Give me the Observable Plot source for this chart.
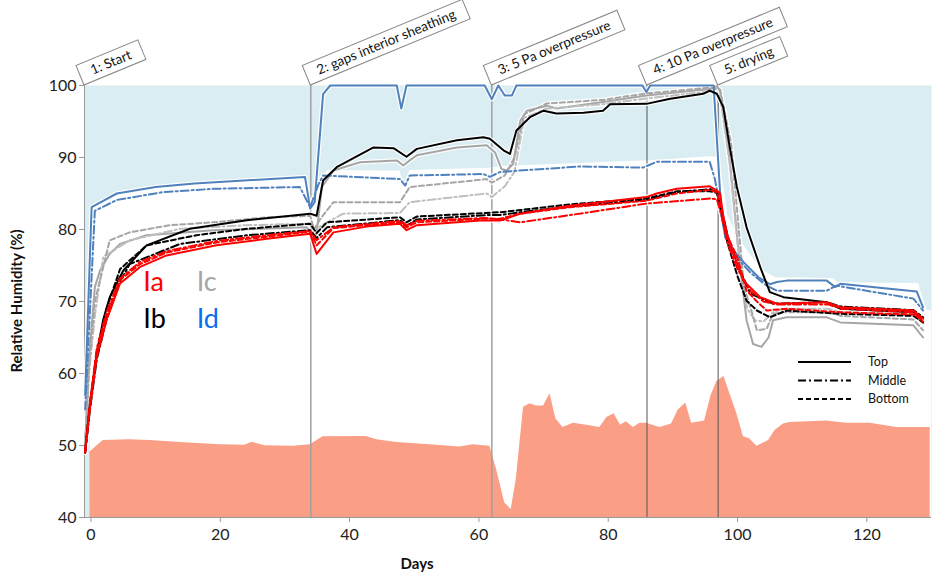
<!DOCTYPE html>
<html><head><meta charset="utf-8">
<script src="https://cdn.jsdelivr.net/npm/d3@7"></script>
<script src="https://cdn.jsdelivr.net/npm/@observablehq/plot@0.6"></script>
<style>body{margin:0;background:#fff} svg{display:block}</style>
</head><body><div id="chart"></div>
<script>
const FONT = "Lato, 'Open Sans', sans-serif";
const xTicks = [0,20,40,60,80,100,120];
const yTicks = [40,50,60,70,80,90,100];
const xDomain = [-1,130];
const yDomain = [40,100];
const phaseDays = [-1,34,62,86,97];
const phaseLabels = ["1: Start","2: gaps interior sheathing","3: 5 Pa overpressure","4: 10 Pa overpressure","5: drying"];
const sensorNames = ["Ia","Ic","Ib","Id"];
const sensorColors = ["#ff0000","#a6a6a6","#000000","#0a6ef0"];
const sensorLabelDays = [8.1,16.35,8.1,16.35];
const sensorLabelValues = [72.6,72.6,67.5,67.5];
const positionNames = ["Top","Middle","Bottom"];

// indoor RH (salmon area)
const indoorRH = [[-0.15,49.1],[1.9,50.7],[6,50.8],[9.1,50.7],[13.8,50.4],[20,50.1],[23.8,50.05],[24.9,50.45],[26.9,49.95],[31.3,49.9],[33.9,50.1],[35.9,51.2],[42.6,51.25],[44.2,50.8],[47.3,50.4],[52.4,50.1],[57.1,49.8],[59.1,50.1],[61.7,49.9],[62.7,46.8],[64.0,42.0],[65.0,41.1],[65.8,45.4],[66.9,55.3],[67.9,55.8],[68.9,55.5],[70.0,55.5],[71.0,57.2],[71.9,53.7],[73.0,52.5],[74.6,53.1],[76.7,52.8],[78.7,52.5],[79.8,53.9],[80.9,54.4],[81.9,52.8],[82.8,53.3],[83.9,52.5],[84.9,53.1],[85.9,53.1],[88.0,52.5],[89.8,53.0],[90.8,54.9],[92.0,55.9],[92.9,53.1],[94.9,53.4],[95.9,56.9],[96.8,58.9],[97.9,59.6],[99.9,54.4],[100.9,51.25],[101.9,50.9],[103.0,49.9],[104.8,50.7],[105.8,52.1],[107.1,53.0],[108.1,53.2],[113.8,53.4],[116.9,53.1],[120.5,53.1],[124.6,52.5],[127.7,52.5],[129.8,52.5]];

// lower edge of the light-blue band
const bandEdge = [[-1,40],[-0.1,40],[0,83.2],[4,85],[10,85.9],[16,86.5],[25,86.8],[33,87.3],[33.9,83.5],[34.6,84],[35.5,87],[36.7,88.2],[47.8,88.1],[48.5,85.8],[49.3,88.2],[61.7,88.5],[63.7,88.75],[87.5,89.6],[95.7,90.1],[96.8,90],[97.5,88],[98.5,82],[100,79],[102,76.5],[104,74.2],[106,73.3],[114.8,73.2],[115.5,72.6],[128,72.5],[129.3,68.75],[130,68.75]];

const iaTop = [[-0.9,49.3],[-0.15,55.3],[0.9,62.3],[2.4,67.4],[4.5,72.5],[7.6,74.8],[11.7,76.4],[19.4,77.8],[27.2,78.7],[33.9,79.4],[34.9,76.6],[37.5,79.6],[42.6,80.4],[47.8,80.8],[48.8,79.9],[50.4,80.6],[60.2,81.25],[63.3,81.25],[66.4,82.2],[74.1,83.3],[85.9,84.5],[87.5,85.0],[90.6,85.65],[95.7,86.0],[96.8,85.4],[97.3,85.0],[98.1,79.9],[99.4,76.6],[100.9,72.9],[103.5,70.6],[106.1,69.7],[113.8,69.9],[115.9,69.2],[127.2,68.75],[128.7,67.6]];
const iaMid = [[-0.9,49],[-0.15,56],[0.9,63.5],[2.4,68.5],[4.5,73.2],[7.6,75.5],[11.7,77],[19.4,78.4],[27.2,79.2],[33.9,79.8],[34.9,78.5],[37.5,80.3],[47.8,81.2],[48.8,80.6],[50.4,81.2],[61,81.6],[63.3,81.4],[66.4,81],[74.1,82],[85.9,83.6],[95.7,84.3],[96.8,84.2],[97.5,82],[98.5,78],[100,74.5],[102,71.5],[104,70],[106,69.6],[114,69.6],[116,69],[127.2,68.5],[128.7,67.2]];
const iaBot = [[-0.9,49],[-0.15,55.8],[0.9,63],[2.4,68],[4.5,73],[7.6,75.2],[11.7,76.8],[19.4,78.2],[27.2,79],[33.9,79.7],[34.9,77.8],[37.5,80.2],[47.8,81],[48.8,80.3],[50.4,81],[61,81.5],[63.3,81.5],[66.4,82.2],[74.1,83.1],[85.9,84],[90.6,85],[95.7,85.5],[96.8,85.2],[97.5,83],[98.5,79],[100,76],[101.4,71.5],[103,70],[104.5,68.75],[107.6,69.0],[115.9,68.5],[127.2,68.2],[128.7,67.4]];
const ibTop = [[-0.9,49.3],[-0.15,56],[0.9,62.7],[1.9,67.5],[2.9,70.6],[5.0,74.3],[8.6,77.8],[15.3,80.1],[24.1,81.3],[33.9,82.2],[34.9,81.9],[35.9,86.8],[38,88.65],[43.7,91.4],[46.8,91.3],[48.8,90.1],[50.4,91.2],[56.6,92.4],[60.7,92.8],[61.7,92.6],[63.8,91.0],[64.8,90.5],[65.8,93.75],[67.9,95.6],[70.0,96.5],[72.0,96.1],[76.2,96.2],[79.2,96.5],[80.3,97.4],[85.9,97.45],[89.6,98.15],[94.7,98.85],[95.7,99.3],[96.8,98.85],[97.8,97],[98.8,91.4],[99.9,85.9],[101.4,80.3],[103.5,74.8],[105,71.3],[107.1,70.6],[113.8,69.9],[115.9,69.0],[127.2,68.5],[128.7,67.7]];
const ibMid = [[-0.9,49],[-0.15,55],[0.9,62],[2.4,67.5],[4.5,72.8],[6,75.2],[13.8,78.0],[24.1,79.2],[33.9,79.9],[34.9,78.8],[36.5,80.3],[47.8,81.3],[48.8,80.5],[50.4,81.4],[61,82],[63.3,82],[66.4,82.4],[74.1,83.2],[85.9,84.1],[90.6,85.2],[95.7,85.6],[96.8,85.4],[97.5,83],[98.5,79],[100,75],[102,71.1],[105.5,69.7],[113.8,69.9],[116,69.3],[127.2,68.8],[128.7,67.8]];
const ibBot = [[-0.9,49],[-0.15,55.5],[0.9,63],[2.4,69],[4.5,74.5],[8.6,77.8],[16.3,79.2],[24.1,80.1],[33.9,80.8],[34.9,79.5],[36.5,81],[47.8,81.7],[48.8,81],[50.4,81.8],[61,82.3],[63.3,82.4],[66.4,82.7],[74.1,83.5],[85.9,84.3],[90.6,85.3],[95.7,85.3],[96.8,85.1],[97.5,82.5],[98.5,78],[100,73.5],[101.4,70.1],[103,68.75],[105,67.8],[107.6,68.75],[115.9,68.3],[127.2,68.0],[128.7,67.1]];
const icTop = [[-0.9,50],[-0.3,62],[0.6,72],[1.4,74.3],[2.9,76.6],[4.5,78.0],[8.6,79.2],[18.9,79.9],[33.4,80.3],[34.4,78.7],[34.9,79.4],[35.7,85.9],[37.5,88.2],[41.6,89.35],[47.3,89.6],[48.3,88.9],[49.3,89.6],[50.4,90.3],[56.6,91.4],[61.2,91.7],[62.5,90.7],[63.5,88.4],[64.3,88.2],[65.3,89.1],[66.4,95.1],[67.4,96.5],[70.5,97.2],[72.0,96.8],[79.2,97.7],[85.9,98.6],[95.7,99.5],[96.8,99.9],[97.3,99.3],[98.8,89.6],[99.9,79.4],[100.4,74.8],[101.4,67.4],[102.4,64.1],[103.7,63.7],[104.8,65.0],[105.5,67.4],[107.6,67.8],[113.8,67.8],[115.9,67.1],[127.2,66.7],[128.7,65.0]];
const icMid = [[-0.9,50],[-0.3,60],[0.6,68],[1.9,76.2],[6,78.5],[13.8,80.1],[24.1,80.6],[33.9,80.8],[34.5,79],[35.5,80.5],[39,82.2],[47.8,82.3],[49.3,83.8],[61.2,85.0],[62,84.5],[64,86],[65.5,88],[67,95.5],[70.5,96.8],[79.2,97.4],[85.9,98.2],[95.7,99.2],[97.3,98.5],[98.8,89],[100,78],[101.5,69],[102.7,67.4],[104,67.2],[105.5,68.5],[107,69],[114,69],[116,68.5],[127.2,68.2],[128.7,67]];
const icBot = [[-0.9,50],[-0.3,61],[0.6,70],[2.9,78.5],[6,79.6],[12.2,80.6],[18.9,81.0],[27.2,81.7],[33.9,81.9],[34.5,80],[35.5,81.5],[37.5,83.8],[47.8,83.8],[49.3,85.9],[61.2,87.0],[62,86.5],[64,87.5],[65.5,90],[67,96],[70.5,97.5],[79.2,98],[85.9,98.9],[95.7,99.7],[97.3,99.4],[99,92],[100,82],[101,72],[102,69.2],[103,66],[104.5,66.2],[105.5,68.3],[107,68.5],[114,68.5],[116,68],[127.2,67.5],[128.7,66]];
const idTop = [[-0.9,57],[0.1,83.1],[4,85.0],[10,85.9],[16,86.4],[33.1,87.3],[33.9,82.9],[34.6,83.8],[35.9,98.8],[37,100],[47.3,100],[48.0,96.8],[48.8,100],[60.9,100],[62.0,98.1],[63.0,100],[64.0,98.6],[65.1,98.6],[65.8,100],[85.3,100],[85.9,99.1],[86.5,100],[96.3,100],[97.5,82.2],[98.1,78.9],[99.4,77.1],[100.9,75.5],[103.2,73.4],[105.0,72.4],[106.1,72.7],[107.6,72.9],[113.8,72.9],[115.1,72.0],[115.9,72.45],[127.7,71.4],[128.7,69.2]];
const idMid = [[-0.9,55],[0.6,82.6],[4,84.1],[11.2,85.2],[18.9,85.65],[32.3,85.9],[33.9,83.1],[35.2,86.3],[35.9,87.5],[47.8,87.0],[48.6,86.1],[49.3,87.5],[60.7,87.7],[61.7,87.3],[63.3,88.0],[75.6,88.75],[85.4,88.6],[87.5,89.4],[95.7,89.4],[96.5,87.0],[97.5,82],[98.5,78],[100,76],[102,74],[104.5,72.2],[106.1,71.5],[113.8,71.5],[115.3,72.2],[127.2,70.4],[128.7,68.75]];

const dashFor = {Top: null, Middle: "8,3,2,3", Bottom: "5,3"};
// drawing order: grey, blue, black, red
const seriesList = [
  {color:"#a6a6a6", pos:"Top", data:icTop},
  {color:"#bfbfbf", pos:"Middle", data:icMid},
  {color:"#a6a6a6", pos:"Bottom", data:icBot},
  {color:"#4f81bd", pos:"Top", data:idTop},
  {color:"#4f81bd", pos:"Middle", data:idMid},
  {color:"#000000", pos:"Top", data:ibTop},
  {color:"#000000", pos:"Middle", data:ibMid},
  {color:"#000000", pos:"Bottom", data:ibBot},
  {color:"#ff0000", pos:"Top", data:iaTop},
  {color:"#ff0000", pos:"Middle", data:iaMid},
  {color:"#ff0000", pos:"Bottom", data:iaBot}
];
const toRows = arr => arr.map(([day, value]) => ({day, value}));
const base = yDomain[0];

const marks = [
  Plot.frame({fill:"#daedf3", stroke:null}),
  Plot.areaY(toRows(bandEdge), {x:"day", y1:() => base, y2:"value", fill:"white"}),
  Plot.areaY(toRows(indoorRH), {x:"day", y1:() => base, y2:"value", fill:"#fa9e86"}),
  Plot.ruleX(phaseDays.slice(1,3), {y1:yDomain[0], y2:yDomain[1], stroke:"#a0a0a0", strokeWidth:1.5}),
  Plot.ruleX(phaseDays.slice(3), {y1:yDomain[0], y2:yDomain[1], stroke:"#555", strokeWidth:1}),
  Plot.ruleX([xDomain[0]], {y1:yDomain[0], y2:yDomain[1], stroke:"#999", strokeWidth:1}),
  Plot.ruleY([yDomain[0]], {x1:xDomain[0], x2:xDomain[1], stroke:"#999", strokeWidth:1}),
];
for (const s of seriesList) {
  marks.push(Plot.line(toRows(s.data), {x:"day", y:"value", stroke:"white", strokeWidth:4.5, strokeOpacity:0.9}));
}
for (const s of seriesList) {
  marks.push(Plot.line(toRows(s.data), {x:"day", y:"value", stroke:s.color, strokeWidth:2, strokeDasharray:dashFor[s.pos]}));
}
sensorNames.forEach((n,i) => {
  marks.push(Plot.text([n], {x:[sensorLabelDays[i]], y:[sensorLabelValues[i]], text:d => d, fill:sensorColors[i], fontSize:27, textAnchor:"start", fontFamily:FONT}));
});
marks.push(Plot.axisY(yTicks, {tickSize:5, tickPadding:3, fontSize:16, stroke:"#999", fill:"#222", label:null, fontFamily:FONT}));
marks.push(Plot.axisX(xTicks, {tickSize:5, tickPadding:6, fontSize:16, stroke:"#999", fill:"#222", label:null, fontFamily:FONT}));

const chart = Plot.plot({
  width:950, height:582,
  marginLeft:84, marginRight:19, marginTop:85, marginBottom:65,
  x:{domain:xDomain},
  y:{domain:yDomain},
  style:{fontFamily:FONT, background:"white", overflow:"visible"},
  marks
});
document.getElementById("chart").appendChild(chart);

const xs = chart.scale("x"), ys = chart.scale("y");
const svg = d3.select(chart);
// axis titles
svg.append("text").text("Relative Humidity (%)")
  .attr("transform", `translate(22,${(ys.apply(yDomain[0])+ys.apply(yDomain[1]))/2}) rotate(-90)`)
  .attr("text-anchor","middle").attr("font-weight","bold").attr("font-size",15).attr("font-family",FONT).attr("fill","#111");
svg.append("text").text("Days")
  .attr("x", 417).attr("y", 569)
  .attr("text-anchor","middle").attr("font-weight","bold").attr("font-size",15).attr("font-family",FONT).attr("fill","#111");

// phase label boxes
const lg = svg.append("g").attr("font-size",13.5).attr("font-family",FONT).attr("text-anchor","start");
phaseDays.forEach((d,i) => {
  const px = xs.apply(d), py = ys.apply(yDomain[1]);
  const grp = lg.append("g").attr("transform", `translate(${px},${py}) rotate(-22.5)`);
  const rect = grp.append("rect");
  const t = grp.append("text").text(phaseLabels[i]).attr("x",12).attr("y",-6).attr("fill","#111").attr("text-anchor","start");
  const w = t.node().getComputedTextLength() + 24;
  rect.attr("x",0).attr("y",-21).attr("width",w).attr("height",21).attr("fill","white").attr("stroke","#888").attr("stroke-width",1);
});

// position legend
const legG = svg.append("g").attr("font-family",FONT).attr("font-size",12.5).attr("text-anchor","start");
positionNames.forEach((p,i) => {
  const y = 362 + i*18.5;
  legG.append("line").attr("x1",798).attr("x2",851).attr("y1",y).attr("y2",y)
    .attr("stroke","#000").attr("stroke-width",2).attr("stroke-dasharray", dashFor[p]);
  legG.append("text").text(p).attr("x",868).attr("y",y+4).attr("fill","#111").attr("text-anchor","start");
});
</script></body></html>
